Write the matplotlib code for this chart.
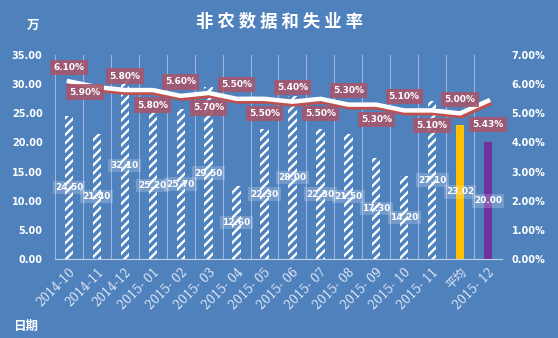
import numpy as np
import matplotlib
matplotlib.use("Agg")
import matplotlib.pyplot as plt
import matplotlib.patheffects as pe

plt.rcParams['font.family'] = ['DejaVu Sans', 'Noto Sans CJK SC']
plt.rcParams['hatch.linewidth'] = 1.7
plt.rcParams['hatch.color'] = 'white'

BG = '#4F81BD'

dates = ['2014-10', '2014-11', '2014-12', '2015- 01', '2015- 02', '2015- 03',
         '2015- 04', '2015- 05', '2015- 06', '2015- 07', '2015- 08', '2015- 09',
         '2015- 10', '2015- 11', '平均', '2015- 12']
nonfarm = [24.50, 21.40, 32.10, 25.20, 25.70, 29.50, 12.60, 22.30, 28.00,
           22.30, 21.50, 17.30, 14.20, 27.10, 23.02, 20.00]
unemp = [6.10, 5.90, 5.80, 5.80, 5.60, 5.70, 5.50, 5.50, 5.40, 5.50, 5.30,
         5.30, 5.10, 5.10, 5.00, 5.43]

x = np.arange(len(dates))

fig = plt.figure(figsize=(5.58, 3.38), dpi=100, facecolor=BG)
ax = fig.add_axes([0.0986, 0.2337, 0.801, 0.6033])
ax.set_facecolor(BG)

# bars: hatched for monthly values, solid for average and latest
for i, v in enumerate(nonfarm):
    if dates[i] == '平均':
        ax.bar(x[i], v, width=0.3, color='#FFC000', linewidth=0, zorder=2)
    elif i == len(dates) - 1:
        ax.bar(x[i], v, width=0.3, color='#7030A0', linewidth=0, zorder=2)
    else:
        ax.bar(x[i], v, width=0.3, facecolor=BG, edgecolor='white',
               hatch='////', linewidth=0, zorder=2)
    ax.text(x[i], v / 2, f'{v:.2f}', ha='center', va='center', color='white',
            fontsize=6.5, fontweight='bold', zorder=3,
            bbox=dict(boxstyle='square,pad=0.25', facecolor='white',
                      alpha=0.2, linewidth=0))

ax.set_xlim(-0.5, len(dates) - 0.5)
ax.set_ylim(0, 35)
ax.set_yticks(np.arange(0, 36, 5))
ax.set_yticklabels([f'{t:.2f}' for t in np.arange(0, 36, 5)])
ax.set_xticks(x)
ax.set_xticklabels(dates, rotation=45, ha='right', rotation_mode='anchor',
                   fontsize=8.5, color='#E3EAF6',
                   family=['DejaVu Serif', 'Noto Sans CJK SC'])
ax.set_xticks(np.arange(-0.5, len(dates), 1), minor=True)
ax.grid(which='minor', axis='x', color='#9DB5DC', linewidth=0.8)
ax.tick_params(axis='both', which='both', length=0)
ax.tick_params(axis='y', pad=9, labelsize=7, labelcolor='white')
ax.tick_params(axis='x', pad=5)
for lab in ax.get_yticklabels():
    lab.set_fontweight('bold')
for s in ['top', 'left', 'right']:
    ax.spines[s].set_visible(False)
ax.spines['bottom'].set_color('#BFD0EA')

ax2 = ax.twinx()
ax2.set_ylim(0, 7)
ax2.set_yticks(np.arange(0, 8, 1))
ax2.set_yticklabels([f'{t:.2f}%' for t in np.arange(0, 8, 1)])
ax2.tick_params(axis='y', length=0, pad=7, labelsize=7, labelcolor='white')
for lab in ax2.get_yticklabels():
    lab.set_fontweight('bold')
for s in ax2.spines.values():
    s.set_visible(False)

ax2.plot(x, unemp, color='white', linewidth=3.2, zorder=3,
         path_effects=[pe.SimpleLineShadow(offset=(1, -2), shadow_color='#C0504D', alpha=1),
                       pe.Normal()])

for i, v in enumerate(unemp):
    dx, dy = 0, (14 if i % 2 == 0 else -15)
    if i == 1:
        dx, dy = -12, -5
    if i == len(unemp) - 1:
        dy = -24
    ax2.annotate(f'{v:.2f}%', (x[i], v), xytext=(dx * 0.72, dy * 0.72),
                 textcoords='offset points', ha='center', va='center',
                 color='white', fontsize=6.5, fontweight='bold', zorder=5,
                 bbox=dict(boxstyle='square,pad=0.35', facecolor='#A5566C',
                           alpha=0.9, linewidth=0))

fig.text(0.5, 0.935, '非 农 数 据 和 失 业 率', ha='center', va='center', color='white',
         fontsize=12.5, fontweight='bold', family=['Noto Sans CJK SC'])
fig.text(0.059, 0.925, '万', ha='center', va='center', color='white',
         fontsize=9, fontweight='bold', family=['Noto Sans CJK SC'])
fig.text(0.045, 0.035, '日期', ha='center', va='center', color='white',
         fontsize=9, fontweight='bold', family=['Noto Sans CJK SC'])

fig.savefig('out.png', dpi=100, facecolor=BG)
